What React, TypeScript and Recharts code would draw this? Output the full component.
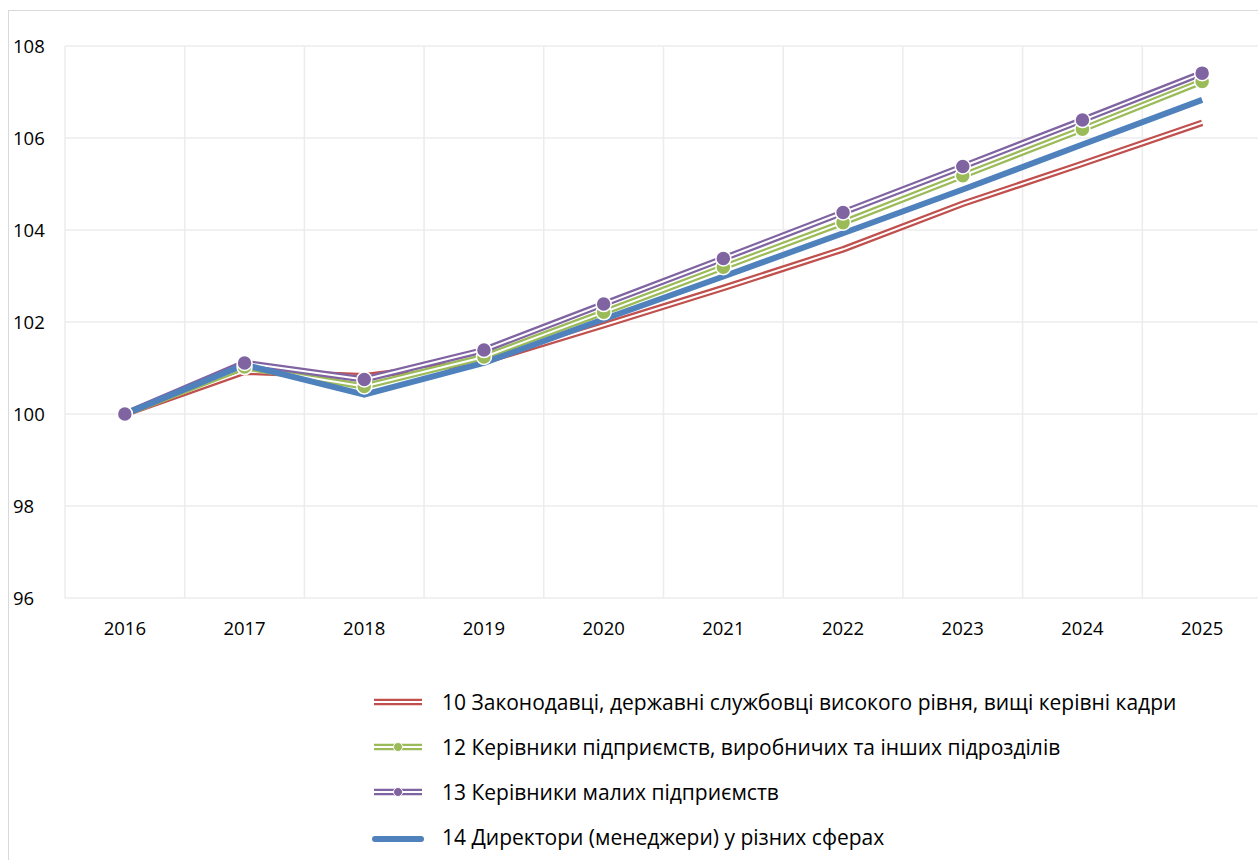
import React from "react";
import { LineChart, Line, XAxis, YAxis, CartesianGrid } from "recharts";

const years = ["2016", "2017", "2018", "2019", "2020", "2021", "2022", "2023", "2024", "2025"];

const legislators = [100, 100.92, 100.82, 101.14, 101.93, 102.74, 103.58, 104.57, 105.44, 106.33];
const enterpriseHeads = [100, 101.02, 100.6, 101.24, 102.21, 103.19, 104.16, 105.18, 106.19, 107.23];
const smallBizHeads = [100, 101.11, 100.75, 101.39, 102.39, 103.38, 104.38, 105.38, 106.39, 107.41];
const directors = [100, 101.07, 100.42, 101.11, 102.06, 102.99, 103.93, 104.88, 105.86, 106.83];

const yTicks = [96, 98, 100, 102, 104, 106, 108];

const seriesNames = [
  "10 Законодавці, державні службовці високого рівня, вищі керівні кадри",
  "12 Керівники підприємств, виробничих та інших підрозділів",
  "13 Керівники малих підприємств",
  "14 Директори (менеджери) у різних сферах",
];

const RED = "#C0504D";
const GREEN = "#9BBB59";
const PURPLE = "#8064A2";
const BLUE = "#4F81BD";
const GRID = "#ececec";
const FONT = "'Open Sans', sans-serif";

const data = years.map((year, i) => ({
  year,
  s10: legislators[i],
  s12: enterpriseHeads[i],
  s13: smallBizHeads[i],
  s14: directors[i],
}));

function YTick({ y, payload }: { y?: number; payload?: { value: number } }) {
  return (
    <text x={4} y={y} dy={6.5} textAnchor="start" fontSize={18.5} fill="#000" fontFamily={FONT}>
      {payload?.value}
    </text>
  );
}

function LegendIcon({ kind, color }: { kind: "double" | "doubleDot" | "thick"; color: string }) {
  return (
    <svg width={52} height={14} style={{ display: "block" }}>
      {kind === "thick" ? (
        <line x1={3} y1={9} x2={49} y2={9} stroke={color} strokeWidth={6} strokeLinecap="round" />
      ) : (
        <>
          <line x1={2} y1={7} x2={50} y2={7} stroke={color} strokeWidth={6.5} />
          <line x1={0} y1={7} x2={52} y2={7} stroke="#fff" strokeWidth={2} />
          {kind === "doubleDot" && <circle cx={26} cy={7} r={4.5} fill={color} stroke="#fff" strokeWidth={1} />}
        </>
      )}
    </svg>
  );
}

export default function App() {
  const icons: Array<{ kind: "double" | "doubleDot" | "thick"; color: string }> = [
    { kind: "double", color: RED },
    { kind: "doubleDot", color: GREEN },
    { kind: "doubleDot", color: PURPLE },
    { kind: "thick", color: BLUE },
  ];

  return (
    <div
      style={{
        position: "fixed",
        left: 0,
        top: 0,
        width: 1258,
        height: 860,
        overflow: "hidden",
        background: "#fff",
      }}
    >
      <div
        style={{
          position: "absolute",
          left: 8,
          top: 10,
          width: 1290,
          height: 900,
          border: "1px solid #d9d9d9",
          boxSizing: "border-box",
        }}
      >
        <LineChart
          width={1253}
          height={660}
          data={data}
          margin={{ top: 35, right: 0, bottom: 3, left: 0 }}
        >
          <CartesianGrid
            stroke={GRID}
            strokeWidth={1.5}
            verticalCoordinatesGenerator={({ offset }: any) =>
              [...years.map((_, i) => i), years.length].map(
                (i) => offset.left + (i * offset.width) / years.length
              )
            }
          />
          <XAxis
            dataKey="year"
            scale="band"
            axisLine={false}
            tickLine={false}
            tickSize={0}
            tickMargin={24}
            height={70}
            tick={{ fontSize: 18.5, fill: "#000", fontFamily: FONT }}
          />
          <YAxis
            domain={[96, 108]}
            ticks={yTicks}
            width={56}
            axisLine={false}
            tickLine={false}
            tick={<YTick />}
          />
          <Line dataKey="s10" stroke={RED} strokeWidth={6.5} dot={false} isAnimationActive={false} />
          <Line dataKey="s10" stroke="#fff" strokeWidth={2} dot={false} isAnimationActive={false} />
          <Line dataKey="s12" stroke={GREEN} strokeWidth={6.5} dot={false} isAnimationActive={false} />
          <Line
            dataKey="s12"
            stroke="#fff"
            strokeWidth={2}
            dot={{ r: 7.5, fill: GREEN, stroke: "#fff", strokeWidth: 1.5 }}
            isAnimationActive={false}
          />
          <Line dataKey="s13" stroke={PURPLE} strokeWidth={6.5} dot={false} isAnimationActive={false} />
          <Line
            dataKey="s13"
            stroke="#fff"
            strokeWidth={2}
            dot={{ r: 7.5, fill: PURPLE, stroke: "#fff", strokeWidth: 1.5 }}
            isAnimationActive={false}
          />
          <Line
            dataKey="s14"
            stroke={BLUE}
            strokeWidth={6}
            strokeLinejoin="round"
            dot={false}
            isAnimationActive={false}
          />
        </LineChart>
        <div style={{ position: "absolute", left: 363, top: 668, fontFamily: FONT }}>
          {seriesNames.map((name, i) => (
            <div key={name} style={{ display: "flex", alignItems: "center", height: 45 }}>
              <LegendIcon kind={icons[i].kind} color={icons[i].color} />
              <span style={{ marginLeft: 18, fontSize: 21, color: "#000", whiteSpace: "nowrap" }}>{name}</span>
            </div>
          ))}
        </div>
      </div>
    </div>
  );
}
